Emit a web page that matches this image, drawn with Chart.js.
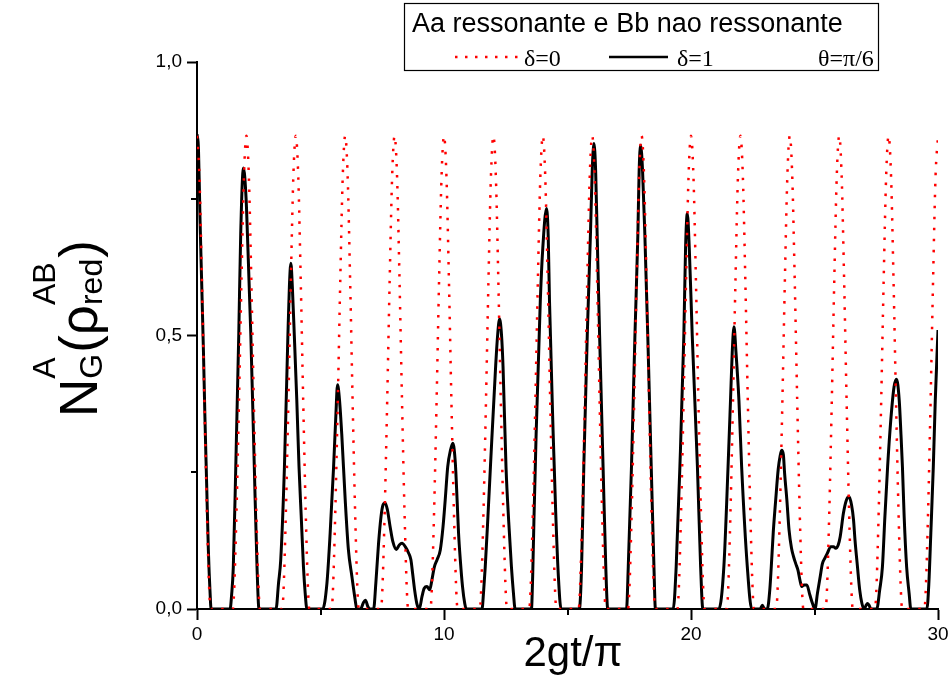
<!DOCTYPE html>
<html><head><meta charset="utf-8">
<script src="https://cdn.jsdelivr.net/npm/chart.js@4.4.1/dist/chart.umd.min.js"></script>
<style>html,body{margin:0;padding:0;background:#fff;}#wrap{width:952px;height:677px;position:relative;}</style>
</head><body><div id="wrap"><canvas id="c" width="952" height="677"></canvas></div>
<script>
// ---- data ----
const xTickValues = [0, 10, 20, 30];
const yTickValues = [0, 0.5, 1.0];
const xMinorTicks = [5, 15, 25];
const yMinorTicks = [0.25, 0.75];

const legendTitle = 'Aa ressonante e Bb nao ressonante';
const seriesNames = ['\u03b4=0', '\u03b4=1'];
const legendNote = '\u03b8=\u03c0/6';

// delta = 0 (red dotted)
const redX = [
 0,0.1,0.2,0.3,0.4,0.5,0.55,
 1.45,1.5,1.6,1.7,1.8,1.9,2.0,2.1,2.2,2.3,2.4,2.5,2.55,
 3.45,3.5,3.6,3.7,3.8,3.9,4.0,4.1,4.2,4.3,4.4,4.5,4.55,
 5.45,5.5,5.6,5.7,5.8,5.9,6.0,6.1,6.2,6.3,6.4,6.5,6.55,
 7.45,7.5,7.6,7.7,7.8,7.9,8.0,8.1,8.2,8.3,8.4,8.5,8.55,
 9.45,9.5,9.6,9.7,9.8,9.9,10.0,10.1,10.2,10.3,10.4,10.5,10.55,
 11.45,11.5,11.6,11.7,11.8,11.9,12.0,12.1,12.2,12.3,12.4,12.5,12.55,
 13.45,13.5,13.6,13.7,13.8,13.9,14.0,14.1,14.2,14.3,14.4,14.5,14.55,
 15.45,15.5,15.6,15.7,15.8,15.9,16.0,16.1,16.2,16.3,16.4,16.5,16.55,
 17.45,17.5,17.6,17.7,17.8,17.9,18.0,18.1,18.2,18.3,18.4,18.5,18.55,
 19.45,19.5,19.6,19.7,19.8,19.9,20.0,20.1,20.2,20.3,20.4,20.5,20.55,
 21.45,21.5,21.6,21.7,21.8,21.9,22.0,22.1,22.2,22.3,22.4,22.5,22.55,
 23.45,23.5,23.6,23.7,23.8,23.9,24.0,24.1,24.2,24.3,24.4,24.5,24.55,
 25.45,25.5,25.6,25.7,25.8,25.9,26.0,26.1,26.2,26.3,26.4,26.5,26.55,
 27.45,27.5,27.6,27.7,27.8,27.9,28.0,28.1,28.2,28.3,28.4,28.5,28.55,
 29.45,29.5,29.6,29.7,29.8,29.9,30.0
];
const redY = [
 0.865,0.79,0.60,0.38,0.18,0.03,0,
 0,0.03,0.18,0.38,0.60,0.79,0.865,0.79,0.60,0.38,0.18,0.03,0,
 0,0.03,0.18,0.38,0.60,0.79,0.865,0.79,0.60,0.38,0.18,0.03,0,
 0,0.03,0.18,0.38,0.60,0.79,0.865,0.79,0.60,0.38,0.18,0.03,0,
 0,0.03,0.18,0.38,0.60,0.79,0.865,0.79,0.60,0.38,0.18,0.03,0,
 0,0.03,0.18,0.38,0.60,0.79,0.865,0.79,0.60,0.38,0.18,0.03,0,
 0,0.03,0.18,0.38,0.60,0.79,0.865,0.79,0.60,0.38,0.18,0.03,0,
 0,0.03,0.18,0.38,0.60,0.79,0.865,0.79,0.60,0.38,0.18,0.03,0,
 0,0.03,0.18,0.38,0.60,0.79,0.865,0.79,0.60,0.38,0.18,0.03,0,
 0,0.03,0.18,0.38,0.60,0.79,0.865,0.79,0.60,0.38,0.18,0.03,0,
 0,0.03,0.18,0.38,0.60,0.79,0.865,0.79,0.60,0.38,0.18,0.03,0,
 0,0.03,0.18,0.38,0.60,0.79,0.865,0.79,0.60,0.38,0.18,0.03,0,
 0,0.03,0.18,0.38,0.60,0.79,0.865,0.79,0.60,0.38,0.18,0.03,0,
 0,0.03,0.18,0.38,0.60,0.79,0.865,0.79,0.60,0.38,0.18,0.03,0,
 0,0.03,0.18,0.38,0.60,0.79,0.865,0.79,0.60,0.38,0.18,0.03,0,
 0,0.03,0.18,0.38,0.60,0.79,0.865
];

// delta = 1 (black solid)
const blackX = [
 0,0.06,0.12,0.19,0.26,0.32,0.39,0.46,0.53,0.57,1.34,
 1.40,1.47,1.57,1.69,1.77,1.88,1.99,2.04,2.18,2.32,2.43,2.51,3.20,
 3.30,3.39,3.54,3.68,3.74,3.80,3.86,3.94,4.04,4.13,4.22,4.31,4.38,4.45,5.09,
 5.26,5.39,5.53,5.62,5.69,5.77,5.86,6.00,6.13,6.27,6.40,6.47,6.62,6.74,6.82,6.92,7.00,7.15,
 7.24,7.35,7.45,7.53,7.62,7.71,7.82,7.93,8.07,8.19,8.30,8.43,8.57,8.66,8.73,8.81,8.90,9.00,
 9.11,9.20,9.31,9.42,9.51,9.61,9.72,9.85,9.96,10.05,10.15,10.26,10.36,10.46,10.53,10.59,10.66,10.75,10.84,10.90,11.54,
 11.60,11.67,11.78,11.88,12.09,12.17,12.25,12.33,12.39,12.51,12.62,12.73,12.81,12.88,13.54,
 13.59,13.64,13.73,13.90,14.00,14.15,14.22,14.27,14.42,14.52,14.63,14.74,15.48,
 15.57,15.66,15.80,15.93,16.00,16.07,16.14,16.20,16.30,16.44,16.55,16.63,17.39,
 17.46,17.59,17.73,17.85,17.90,17.96,18.04,18.13,18.25,18.39,18.50,18.56,19.28,
 19.40,19.55,19.71,19.78,19.85,19.93,20.05,20.26,20.39,20.48,21.13,
 21.33,21.50,21.60,21.67,21.74,21.82,21.94,22.05,22.28,22.46,22.80,22.89,22.97,23.09,
 23.19,23.25,23.33,23.43,23.53,23.61,23.67,23.74,23.79,23.88,23.97,24.07,24.15,24.24,24.33,24.41,24.48,24.58,24.69,24.81,24.92,25.02,
 25.12,25.23,25.32,25.42,25.52,25.66,25.77,25.86,25.96,26.04,26.17,26.29,26.40,26.50,26.58,26.64,26.74,26.83,26.92,27.01,
 27.08,27.15,27.22,27.28,27.52,
 27.64,27.75,27.85,27.96,28.09,28.22,28.32,28.43,28.50,28.56,28.63,28.73,28.83,28.90,29.55,
 29.63,29.71,29.81,29.89,30.00
];
const blackY = [
 0.868,0.84,0.717,0.595,0.473,0.352,0.23,0.108,0.029,0,0,
 0.025,0.077,0.26,0.50,0.687,0.806,0.748,0.687,0.50,0.26,0.077,0,0,
 0.047,0.09,0.26,0.50,0.589,0.632,0.589,0.50,0.382,0.26,0.169,0.077,0.029,0,0,
 0.047,0.138,0.26,0.352,0.41,0.382,0.32,0.20,0.108,0.06,0.018,0,0,0.012,0.016,0.004,0,0,
 0.047,0.12,0.169,0.19,0.194,0.181,0.15,0.123,0.109,0.117,0.12,0.114,0.102,0.09,0.065,0.035,0.01,0,
 0.023,0.038,0.041,0.035,0.053,0.077,0.09,0.108,0.15,0.20,0.26,0.29,0.303,0.266,0.20,0.138,0.09,0.041,0.01,0,0,
 0.03,0.077,0.17,0.26,0.443,0.50,0.53,0.50,0.443,0.26,0.16,0.077,0.03,0,0,
 0.06,0.16,0.32,0.565,0.66,0.732,0.68,0.565,0.32,0.18,0.06,0,0,
 0.077,0.26,0.50,0.687,0.80,0.851,0.80,0.687,0.50,0.26,0.077,0,0,
 0.077,0.26,0.50,0.687,0.80,0.848,0.80,0.687,0.50,0.26,0.077,0,0,
 0.077,0.26,0.50,0.66,0.723,0.66,0.50,0.26,0.077,0,0,
 0.077,0.26,0.382,0.47,0.516,0.47,0.382,0.26,0.077,0,0,0.007,0,0,
 0.035,0.077,0.14,0.20,0.255,0.28,0.29,0.282,0.248,0.20,0.144,0.111,0.096,0.083,0.071,0.053,0.041,0.044,0.044,0.026,0.010,0,
 0.029,0.059,0.083,0.093,0.102,0.114,0.114,0.111,0.117,0.132,0.175,0.199,0.205,0.19,0.163,0.126,0.077,0.035,0.010,0,
 0.006,0.010,0.006,0,0,
 0.035,0.077,0.169,0.26,0.346,0.406,0.42,0.382,0.32,0.26,0.169,0.077,0.029,0,0,
 0.047,0.139,0.26,0.382,0.51
];

// ---- chart ----
const SANS = '"Liberation Sans", Arial, sans-serif';
const SERIF = '"Liberation Serif", "Times New Roman", serif';
const toPts = (xs, ys) => xs.map((x, i) => ({x: x, y: ys[i]}));

const decor = {
  id: 'decor',
  afterDraw(chart) {
    const ctx = chart.ctx, xs = chart.scales.x, ys = chart.scales.y;
    const ca = chart.chartArea;
    ctx.save();
    // minor ticks
    ctx.strokeStyle = '#000'; ctx.lineWidth = 2;
    xMinorTicks.forEach(v => {
      const p = Math.round(xs.getPixelForValue(v));
      ctx.beginPath(); ctx.moveTo(p, ca.bottom); ctx.lineTo(p, ca.bottom + 6); ctx.stroke();
    });
    yMinorTicks.forEach(v => {
      const p = Math.round(ys.getPixelForValue(v));
      ctx.beginPath(); ctx.moveTo(ca.left - 6, p); ctx.lineTo(ca.left, p); ctx.stroke();
    });
    // x title
    ctx.fillStyle = '#000';
    ctx.font = '42px ' + SANS; ctx.textAlign = 'center'; ctx.textBaseline = 'alphabetic';
    ctx.fillText('2gt/\u03c0', 573, 666);
    // y title (rotated, with sub/superscripts)
    ctx.save();
    ctx.translate(97, 417); ctx.rotate(-Math.PI / 2);
    ctx.textAlign = 'left';
    const big = '53px ' + SANS, small = '32px ' + SANS;
    const sup = -42, sub = 5;
    let u = 0;
    ctx.font = big; ctx.fillText('N', u, 0); u += ctx.measureText('N').width;
    ctx.font = small; ctx.fillText('A', u, sup); ctx.fillText('G', u, sub);
    u += Math.max(ctx.measureText('A').width, ctx.measureText('G').width) + 1;
    ctx.font = big; ctx.fillText('(', u, 0); u += ctx.measureText('(').width;
    ctx.fillText('\u03c1', u, 0); u += ctx.measureText('\u03c1').width;
    ctx.font = small; ctx.fillText('AB', u, sup); ctx.fillText('red', u, sub);
    u += Math.max(ctx.measureText('AB').width, ctx.measureText('red').width) + 1;
    ctx.font = big; ctx.fillText(')', u, 0);
    ctx.restore();
    // legend box
    ctx.fillStyle = '#fff'; ctx.fillRect(404, 3, 474, 67);
    ctx.strokeStyle = '#000'; ctx.lineWidth = 1.2; ctx.strokeRect(404.5, 3.5, 474, 67);
    ctx.fillStyle = '#000'; ctx.textAlign = 'left';
    ctx.font = '27px ' + SANS; ctx.fillText(legendTitle, 412, 32);
    ctx.strokeStyle = '#ff0000'; ctx.lineWidth = 2.5; ctx.setLineDash([2.5, 7.5]);
    ctx.beginPath(); ctx.moveTo(455, 57); ctx.lineTo(518, 57); ctx.stroke();
    ctx.setLineDash([]);
    ctx.strokeStyle = '#000'; ctx.lineWidth = 2.5;
    ctx.beginPath(); ctx.moveTo(609, 57); ctx.lineTo(668, 57); ctx.stroke();
    ctx.font = '24px ' + SERIF;
    ctx.fillText(seriesNames[0], 524, 66);
    ctx.fillText(seriesNames[1], 677, 66);
    ctx.fillText(legendNote, 818, 66);
    ctx.restore();
  }
};

new Chart(document.getElementById('c'), {
  type: 'line',
  data: {
    datasets: [
      {label: seriesNames[0], data: toPts(redX, redY), borderColor: '#ff0000', borderWidth: 2.5,
       borderDash: [2.5, 8.5], pointRadius: 0, cubicInterpolationMode: 'monotone', fill: false},
      {label: seriesNames[1], data: toPts(blackX, blackY), borderColor: '#000000', borderWidth: 3,
       pointRadius: 0, cubicInterpolationMode: 'monotone', fill: false}
    ]
  },
  options: {
    responsive: false, animation: false, devicePixelRatio: 1, events: [],
    layout: {padding: {top: 62, right: 14, bottom: 0, left: 0}},
    plugins: {legend: {display: false}, tooltip: {enabled: false}},
    scales: {
      x: {
        type: 'linear', min: 0, max: 30, z: 1,
        afterBuildTicks: s => { s.ticks = xTickValues.map(v => ({value: v})); },
        ticks: {color: '#000', font: {family: SANS, size: 19}, padding: 3, maxRotation: 0, autoSkip: false},
        grid: {display: true, drawOnChartArea: false, drawTicks: true, tickLength: 11, tickWidth: 2, tickColor: '#000'},
        border: {display: true, color: '#000', width: 2},
        afterFit: s => { s.height = 68; }
      },
      y: {
        type: 'linear', min: 0, max: 1, z: 1,
        afterBuildTicks: s => { s.ticks = yTickValues.map(v => ({value: v})); },
        ticks: {color: '#000', font: {family: SANS, size: 19}, padding: 5,
                callback: v => v.toFixed(1).replace('.', ',')},
        grid: {display: true, drawOnChartArea: false, drawTicks: true, tickLength: 10, tickWidth: 2, tickColor: '#000'},
        border: {display: true, color: '#000', width: 2},
        afterFit: s => { s.height; s.width = 197; }
      }
    }
  },
  plugins: [decor]
});
</script></body></html>
